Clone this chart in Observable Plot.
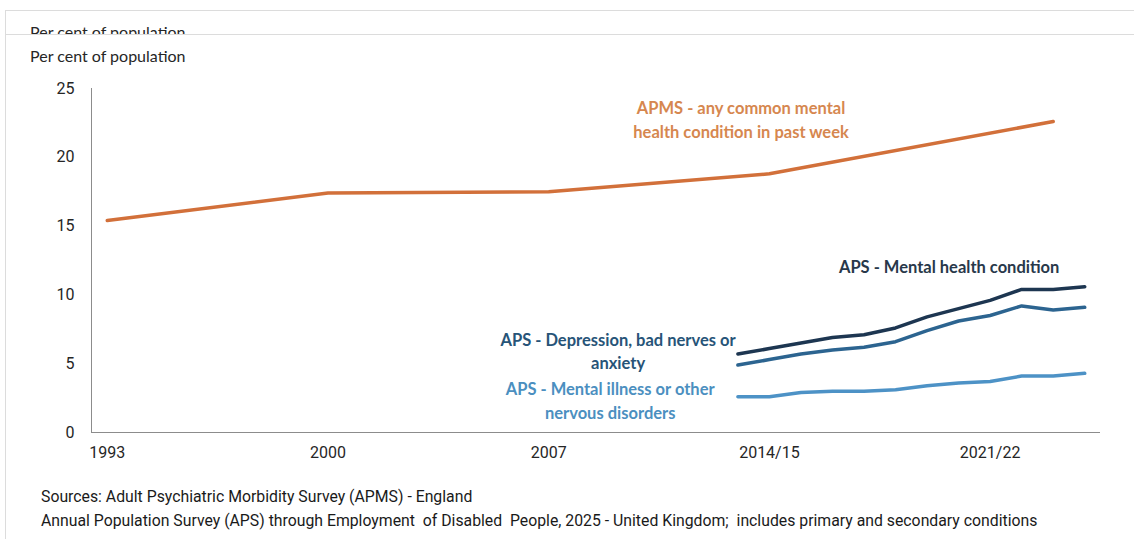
<!DOCTYPE html>
<html>
<head>
<meta charset="utf-8">
<script src="https://cdn.jsdelivr.net/npm/d3@7"></script>
<script src="https://cdn.jsdelivr.net/npm/@observablehq/plot@0.6"></script>
<style>
  html, body { margin: 0; padding: 0; background: #fff; }
  body { width: 1134px; height: 539px; position: relative; overflow: hidden; font-family: "Lato", "Noto Sans", sans-serif; color: #262626; }
  .frame { position: absolute; left: 5px; top: 10px; right: -2px; bottom: -2px; border: 1px solid #dcdcdc; }
  .ghost { position: absolute; left: 30px; top: 11px; height: 23px; overflow: hidden; font-size: 16px; line-height: 16px; }
  .ghost span { display: block; padding-top: 13px; }
  .rule { position: absolute; left: 5px; right: 0; top: 34px; border-top: 1px solid #dcdcdc; }
  .ylabel { position: absolute; left: 30px; top: 46px; font-size: 16px; line-height: 20px; }
  #chart { position: absolute; left: 0; top: 70px; }
  .src { position: absolute; left: 41px; font-family: "Roboto", sans-serif; font-size: 15.8px; line-height: 18px; color: #1a1a1a; white-space: pre; }
</style>
</head>
<body>
<div class="frame"></div>
<div class="ghost"><span>Per cent of population</span></div>
<div class="rule"></div>
<div class="ylabel">Per cent of population</div>
<div id="chart"></div>
<div class="src" style="top:488px">Sources: Adult Psychiatric Morbidity Survey (APMS) - England</div>
<div class="src" style="top:512px">Annual Population Survey (APS) through Employment  of Disabled  People, 2025 - United Kingdom;  includes primary and secondary conditions</div>
<script>
// APMS (England): survey years and share with a common mental health condition
const apmsYears = [1993, 2000, 2007, 2014, 2023];
const apmsValues = [15.4, 17.4, 17.5, 18.8, 22.6];

// APS (UK): financial years 2013/14 .. 2024/25, keyed by the first calendar year
const apsYears = [2013, 2014, 2015, 2016, 2017, 2018, 2019, 2020, 2021, 2022, 2023, 2024];
const apsMentalHealth = [5.7, 6.1, 6.5, 6.9, 7.1, 7.6, 8.4, 9.0, 9.6, 10.4, 10.4, 10.6];
const apsDepression = [4.9, 5.3, 5.7, 6.0, 6.2, 6.6, 7.4, 8.1, 8.5, 9.2, 8.9, 9.1];
const apsMentalIllness = [2.6, 2.6, 2.9, 3.0, 3.0, 3.1, 3.4, 3.6, 3.7, 4.1, 4.1, 4.3];

// Axis ticks
const xTickYears = [1993, 2000, 2007, 2014, 2021];
const xTickLabels = ["1993", "2000", "2007", "2014/15", "2021/22"];
const yTicks = [0, 5, 10, 15, 20, 25];

// Series labels
const labelApms = "APMS - any common mental\nhealth condition in past week";
const labelMentalHealth = "APS - Mental health condition";
const labelDepression = "APS - Depression, bad nerves or\nanxiety";
const labelMentalIllness = "APS - Mental illness or other\nnervous disorders";

const colors = {
  apms: "#d2703a", apmsText: "#d6874f",
  mh: "#1d3651", mhText: "#28384a",
  dep: "#2c6490", depText: "#275478",
  ill: "#4d92c6", illText: "#4b8fc0"
};

const apms = apmsYears.map((year, i) => ({year, value: apmsValues[i]}));
const toRows = (vals) => apsYears.map((year, i) => ({year, value: vals[i]}));
const mh = toRows(apsMentalHealth);
const dep = toRows(apsDepression);
const ill = toRows(apsMentalIllness);

const tickLabel = new Map(xTickYears.map((y, i) => [y, xTickLabels[i]]));

const labelFont = "Lato, 'Noto Sans', sans-serif";
const labelSize = 16.5;

const chart = Plot.plot({
  width: 1134,
  height: 400,
  marginLeft: 91,
  marginRight: 34,
  marginTop: 18,
  marginBottom: 38,
  style: {fontFamily: "'Roboto', sans-serif", fontSize: "16px", color: "#262626", background: "transparent"},
  x: {domain: [1992.5, 2024.5], ticks: xTickYears, tickFormat: d => tickLabel.get(d), tickSize: 0, tickPadding: 14, label: null},
  y: {domain: [0, 25], ticks: yTicks, tickSize: 0, tickPadding: 17, label: null},
  marks: [
    Plot.ruleX([1992.5], {stroke: "#8c8c8c", strokeWidth: 1}),
    Plot.ruleY([0], {stroke: "#8c8c8c", strokeWidth: 1}),
    Plot.line(apms, {x: "year", y: "value", stroke: colors.apms, strokeWidth: 3.5}),
    Plot.line(ill, {x: "year", y: "value", stroke: colors.ill, strokeWidth: 3.5}),
    Plot.line(dep, {x: "year", y: "value", stroke: colors.dep, strokeWidth: 3.5}),
    Plot.line(mh, {x: "year", y: "value", stroke: colors.mh, strokeWidth: 3.5}),
    Plot.text([labelApms], {x: () => 2013.1, y: () => 22.85, text: d => d, fill: colors.apmsText, fontWeight: "bold", fontSize: labelSize, fontFamily: labelFont, lineHeight: 1.45}),
    Plot.text([labelMentalHealth], {x: () => 2019.7, y: () => 11.95, text: d => d, fill: colors.mhText, fontWeight: "bold", fontSize: labelSize, fontFamily: labelFont}),
    Plot.text([labelDepression], {x: () => 2009.2, y: () => 6.0, text: d => d, fill: colors.depText, fontWeight: "bold", fontSize: labelSize, fontFamily: labelFont, lineHeight: 1.4}),
    Plot.text([labelMentalIllness], {x: () => 2008.95, y: () => 2.4, text: d => d, fill: colors.illText, fontWeight: "bold", fontSize: labelSize, fontFamily: labelFont, lineHeight: 1.45})
  ]
});
document.getElementById("chart").appendChild(chart);
</script>
</body>
</html>
